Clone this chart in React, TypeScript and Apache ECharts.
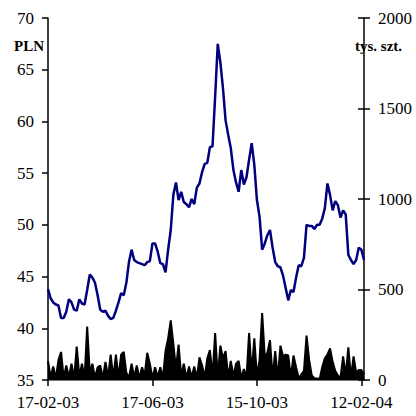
import React, { useEffect, useRef } from "react";
import * as echarts from "echarts";

// Share price (PLN), sampled roughly every second trading day
const price: number[] = [
  43.8, 42.9, 42.5, 42.3, 42.2, 41.0, 41.0, 41.6, 42.8, 42.5,
  41.8, 41.7, 42.8, 42.4, 42.3, 43.7, 45.2, 44.9, 44.4, 43.2,
  41.8, 41.6, 41.7, 41.2, 40.9, 41.0, 41.7, 42.5, 43.4, 43.2,
  44.4, 46.4, 47.6, 46.6, 46.4, 46.3, 46.2, 46.1, 46.4, 46.5,
  48.2, 48.2, 47.4, 46.3, 46.2, 45.4, 47.6, 49.5, 52.9, 54.1,
  52.4, 53.2, 52.2, 52.0, 51.7, 52.5, 52.0, 53.6, 54.0, 55.1,
  55.9, 56.0, 57.5, 57.6, 62.4, 67.5, 65.7, 63.2, 60.1, 58.7,
  57.4, 55.3, 54.1, 53.2, 55.3, 53.9, 54.6, 56.3, 57.9, 55.8,
  52.4, 50.8, 47.6, 48.2, 49.0, 49.5, 47.8, 46.4, 46.0, 45.9,
  45.1, 43.9, 42.7, 43.7, 43.5, 44.9, 46.1, 46.0, 46.8, 50.0,
  49.9, 49.9, 49.6, 50.0, 50.0, 50.6, 51.6, 54.0, 52.9, 51.4,
  52.3, 51.9, 50.7, 51.4, 51.0, 47.1, 46.6, 46.2, 46.6, 47.8,
  47.6, 46.6,
];

// Turnover (tys. szt.)
const volume: number[] = [
  105, 15, 75, 10, 110, 155, 10, 80, 15, 90,
  8, 185, 20, 90, 10, 295, 40, 90, 12, 70,
  80, 10, 100, 15, 140, 10, 140, 12, 140, 155,
  40, 12, 90, 15, 80, 10, 70, 25, 150, 90,
  10, 70, 15, 70, 10, 160, 230, 330, 200, 60,
  195, 20, 90, 10, 75, 15, 75, 10, 125, 80,
  15, 120, 165, 20, 260, 15, 190, 120, 160, 15,
  105, 20, 90, 105, 10, 60, 15, 260, 40, 230,
  20, 110, 370, 130, 150, 220, 15, 160, 10, 190,
  130, 140, 135, 15, 135, 70, 10, 30, 50, 245,
  110, 25, 10, 8, 5, 70, 120, 140, 175, 100,
  50, 25, 10, 130, 25, 180, 15, 130, 40, 55,
  55, 30,
];

const tickIndices: number[] = [0, 40, 80, 120];
const tickLabels: string[] = ["17-02-03", "17-06-03", "15-10-03", "12-02-04"];

const categories: string[] = price.map((_, i) => String(i));

const FONT = "'Liberation Serif', 'Times New Roman', serif";

export default function App() {
  const ref = useRef<HTMLDivElement>(null);

  useEffect(() => {
    if (!ref.current) return;
    const chart = echarts.init(ref.current, undefined, { renderer: "svg" });
    const showTick = (index: number) => tickIndices.includes(index);
    chart.setOption({
      animation: false,
      backgroundColor: "#ffffff",
      grid: { left: 48, right: 52, top: 18, bottom: 36, containLabel: false },
      xAxis: [
        {
          type: "category",
          data: categories,
          boundaryGap: false,
          position: "bottom",
          axisLine: { lineStyle: { color: "#000", width: 1.5 } },
          axisTick: { interval: showTick, length: 6, lineStyle: { color: "#000", width: 1.5 } },
          axisLabel: {
            interval: showTick,
            formatter: (_v: string, idx: number) => {
              const k = tickIndices.indexOf(idx);
              return k >= 0 ? tickLabels[k] : "";
            },
            margin: 14,
            color: "#000",
            fontFamily: FONT,
            fontSize: 17,
          },
          splitLine: { show: false },
        },
        {
          type: "category",
          data: categories,
          boundaryGap: false,
          position: "top",
          axisLine: { lineStyle: { color: "#8c8c8c", width: 1.5 } },
          axisTick: { show: false },
          axisLabel: { show: false },
          splitLine: { show: false },
        },
      ],
      yAxis: [
        {
          type: "value",
          min: 35,
          max: 70,
          interval: 5,
          position: "left",
          axisLine: { show: true, lineStyle: { color: "#000", width: 1.5 } },
          axisTick: { show: true, length: 6, lineStyle: { color: "#000", width: 1.5 } },
          axisLabel: { margin: 14, color: "#000", fontFamily: FONT, fontSize: 17 },
          splitLine: { show: false },
        },
        {
          type: "value",
          min: 0,
          max: 2000,
          interval: 500,
          position: "right",
          axisLine: { show: true, lineStyle: { color: "#000", width: 1.5 } },
          axisTick: { show: true, length: 6, lineStyle: { color: "#000", width: 1.5 } },
          axisLabel: {
            margin: 14,
            color: "#000",
            fontFamily: FONT,
            fontSize: 17,
            formatter: (v: number) => String(v),
          },
          splitLine: { show: false },
        },
        {
          type: "value",
          min: 0,
          max: 2000,
          interval: 500,
          position: "right",
          axisLine: { show: false },
          axisTick: { show: true, inside: true, length: 6, lineStyle: { color: "#000", width: 1.5 } },
          axisLabel: { show: false },
          splitLine: { show: false },
        },
      ],
      graphic: [
        {
          type: "text",
          left: 14,
          top: 38,
          style: { text: "PLN", font: `bold 15px ${FONT}`, fill: "#000" },
        },
        {
          type: "text",
          left: 355,
          top: 38,
          style: { text: "tys. szt.", font: `bold 15px ${FONT}`, fill: "#000" },
        },
      ],
      series: [
        {
          type: "line",
          name: "wolumen",
          xAxisIndex: 0,
          yAxisIndex: 1,
          data: volume,
          showSymbol: false,
          lineStyle: { color: "#000", width: 2 },
          areaStyle: { color: "#000", opacity: 1 },
          z: 2,
        },
        {
          type: "line",
          name: "kurs",
          xAxisIndex: 0,
          yAxisIndex: 0,
          data: price,
          showSymbol: false,
          lineStyle: { color: "#000080", width: 2.5 },
          z: 3,
        },
      ],
    });
    return () => chart.dispose();
  }, []);

  return (
    <div
      ref={ref}
      style={{ position: "fixed", left: 0, top: 0, width: 416, height: 416, background: "#fff" }}
    />
  );
}
